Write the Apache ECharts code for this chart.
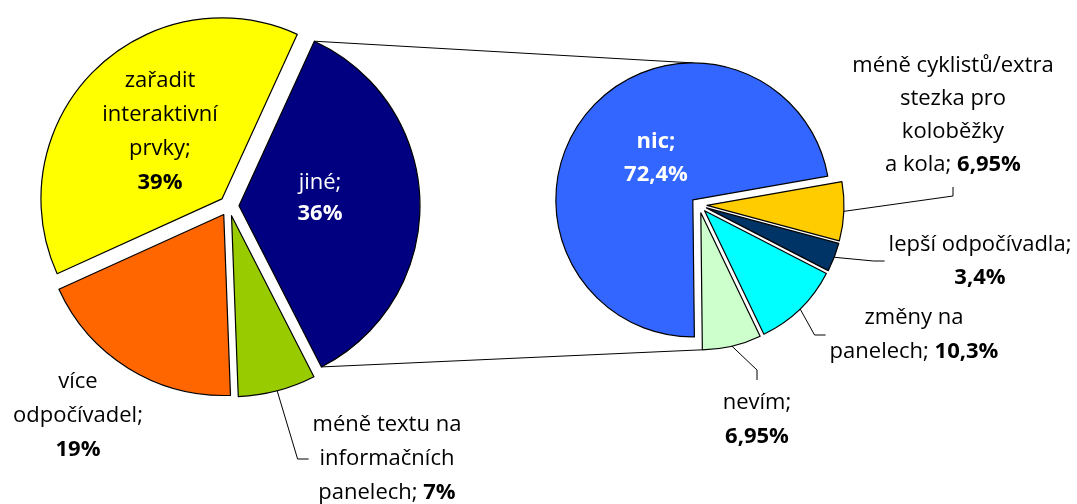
<!DOCTYPE html>
<html>
<head>
<meta charset="utf-8">
<style>
  html, body { margin: 0; padding: 0; background: #fff; }
  #chart { width: 1077px; height: 504px; }
</style>
<script src="https://cdn.jsdelivr.net/npm/echarts@6/dist/echarts.min.js"></script>
</head>
<body>
<div id="chart"></div>
<script>
// first pie
const mainNames = ['jiné', 'méně textu na\ninformačních\npanelech', 'více\nodpočívadel', 'zařadit\ninteraktivní\nprvky'];
const mainValues = [36, 7, 19, 39];
const mainColors = ['#000080', '#99CC00', '#FF6600', '#FFFF00'];
const mainValueOnNewLine = [true, false, true, true];

// second pie = breakdown of "jiné"
const otherNames = ['méně cyklistů/extra\nstezka pro\nkoloběžky\na kola', 'lepší odpočívadla', 'změny na\npanelech', 'nevím', 'nic'];
const otherValues = [6.95, 3.4, 10.3, 6.95, 72.4];
const otherColors = ['#FFCC00', '#003366', '#00FFFF', '#CCFFCC', '#3366FF'];
const otherValueOnNewLine = [false, true, false, true, true];

// where each label sits (centre of the text block) and which side the leader line enters
const mainLabelPos = [
    { x: 320, y: 198, side: null, lh: 31, color: '#fff' },
    { x: 387, y: 459, side: 'left', lh: 34, color: '#000' },
    { x: 78, y: 416, side: null, lh: 34, color: '#000' },
    { x: 160, y: 132, side: null, lh: 34, color: '#000' }
];
const otherLabelPos = [
    { x: 953, y: 115, side: 'bottom', lh: 33, color: '#000' },
    { x: 980, y: 261, side: 'left', lh: 33, color: '#000' },
    { x: 914, y: 335, side: 'left', lh: 34, color: '#000' },
    { x: 757, y: 420, side: 'top', lh: 34, color: '#000' },
    { x: 656, y: 158, side: null, lh: 33, color: '#fff', boldName: true }
];

const FONT = 'Open Sans';
const FONT_SIZE = 22;
const MAIN_OFFSET = 10;
const OTHER_OFFSET = 8;

const measureCtx = document.createElement('canvas').getContext('2d');
function textWidth(t, bold) {
    measureCtx.font = (bold ? 'bold ' : '') + FONT_SIZE + 'px "' + FONT + '"';
    return measureCtx.measureText(t).width;
}

function fmtValue(v) {
    return String(v).replace('.', ',') + '%';
}

// split a label into lines of [text, bold] pieces
function labelLines(name, value, newLine, boldName) {
    const lines = (name + ';').split('\n').map(t => [[t, !!boldName]]);
    if (newLine) {
        lines.push([[fmtValue(value), true]]);
    } else {
        lines[lines.length - 1].push([' ' + fmtValue(value), true]);
    }
    return lines;
}

function buildSeriesData(names, values, colors) {
    return values.map((v, i) => ({
        name: names[i],
        value: v,
        selected: true,
        itemStyle: { color: colors[i] }
    }));
}

const common = {
    type: 'pie',
    clockwise: true,
    selectedMode: 'multiple',
    avoidLabelOverlap: false,
    animation: false,
    itemStyle: { borderColor: '#000', borderWidth: 1.2 },
    emphasis: { disabled: true },
    label: { show: false },
    labelLine: { show: false }
};

let myChart = echarts.init(document.getElementById('chart'));
myChart.setOption({
    animation: false,
    series: [
        Object.assign({}, common, {
            name: 'main',
            center: [229, 206],
            radius: 181,
            startAngle: 65.4,
            selectedOffset: MAIN_OFFSET,
            data: buildSeriesData(mainNames, mainValues, mainColors)
        }),
        Object.assign({}, common, {
            name: 'jiné',
            center: [699, 205],
            radius: 137,
            startAngle: 10,
            selectedOffset: OTHER_OFFSET,
            data: buildSeriesData(otherNames, otherValues, otherColors)
        })
    ]
});

// slice geometry from the library's own layout
function sliceLayout(seriesIndex, dataIndex) {
    return myChart.getModel().getSeriesByIndex(seriesIndex).getData().getItemLayout(dataIndex);
}
function pointOnSlice(seriesIndex, dataIndex, angle, offset) {
    const l = sliceLayout(seriesIndex, dataIndex);
    const mid = (l.startAngle + l.endAngle) / 2;
    return [
        l.cx + offset * Math.cos(mid) + l.r * Math.cos(angle),
        l.cy + offset * Math.sin(mid) + l.r * Math.sin(angle)
    ];
}

const lineStyle = { stroke: '#000', lineWidth: 1, fill: null };
const graphics = [];

// connector lines between "jiné" and the second pie
const jine = sliceLayout(0, 0);
const nevim = sliceLayout(1, 3);
const topA = pointOnSlice(0, 0, jine.startAngle, MAIN_OFFSET);
const botA = pointOnSlice(0, 0, jine.endAngle, MAIN_OFFSET);
const topB = pointOnSlice(1, 4, -Math.PI / 2, OTHER_OFFSET);
const botB = pointOnSlice(1, 3, nevim.endAngle, OTHER_OFFSET);
graphics.push({ type: 'line', z: -1, shape: { x1: topA[0], y1: topA[1], x2: topB[0], y2: topB[1] }, style: lineStyle });
graphics.push({ type: 'line', z: -1, shape: { x1: botA[0], y1: botA[1], x2: botB[0], y2: botB[1] }, style: lineStyle });

function addLabels(seriesIndex, names, values, newLineArr, posTable, offset) {
    values.forEach((v, i) => {
        const pos = posTable[i];
        const lines = labelLines(names[i], v, newLineArr[i], pos.boldName);
        const rich = {
            n: { fontFamily: FONT, fontSize: FONT_SIZE, lineHeight: pos.lh, fill: pos.color },
            b: { fontFamily: FONT, fontSize: FONT_SIZE, lineHeight: pos.lh, fill: pos.color, fontWeight: 'bold' }
        };
        const text = lines.map(l => l.map(p => '{' + (p[1] ? 'b' : 'n') + '|' + p[0] + '}').join('')).join('\n');
        graphics.push({
            type: 'text',
            x: pos.x,
            y: pos.y,
            z: 10,
            style: { text: text, rich: rich, align: 'center', verticalAlign: 'middle', fill: pos.color }
        });

        if (pos.side) {
            const w = Math.max.apply(null, lines.map(l => l.reduce((s, p) => s + textWidth(p[0], p[1]), 0)));
            const h = lines.length * pos.lh;
            const l = sliceLayout(seriesIndex, i);
            const s = pointOnSlice(seriesIndex, i, (l.startAngle + l.endAngle) / 2, offset);
            let bend, end;
            if (pos.side === 'left') {
                end = [pos.x - w / 2 - 4, pos.y];
                bend = [end[0] - 11, pos.y];
            } else if (pos.side === 'top') {
                end = [pos.x, pos.y - h / 2 - 6];
                bend = [pos.x, end[1] - 10];
            } else {
                end = [pos.x, pos.y + h / 2 + 6];
                bend = [pos.x, end[1] + 9];
            }
            graphics.push({ type: 'polyline', z: 5, shape: { points: [s, bend, end] }, style: lineStyle });
        }
    });
}

addLabels(0, mainNames, mainValues, mainValueOnNewLine, mainLabelPos, MAIN_OFFSET);
addLabels(1, otherNames, otherValues, otherValueOnNewLine, otherLabelPos, OTHER_OFFSET);

myChart.setOption({ graphic: graphics });
</script>
</body>
</html>
